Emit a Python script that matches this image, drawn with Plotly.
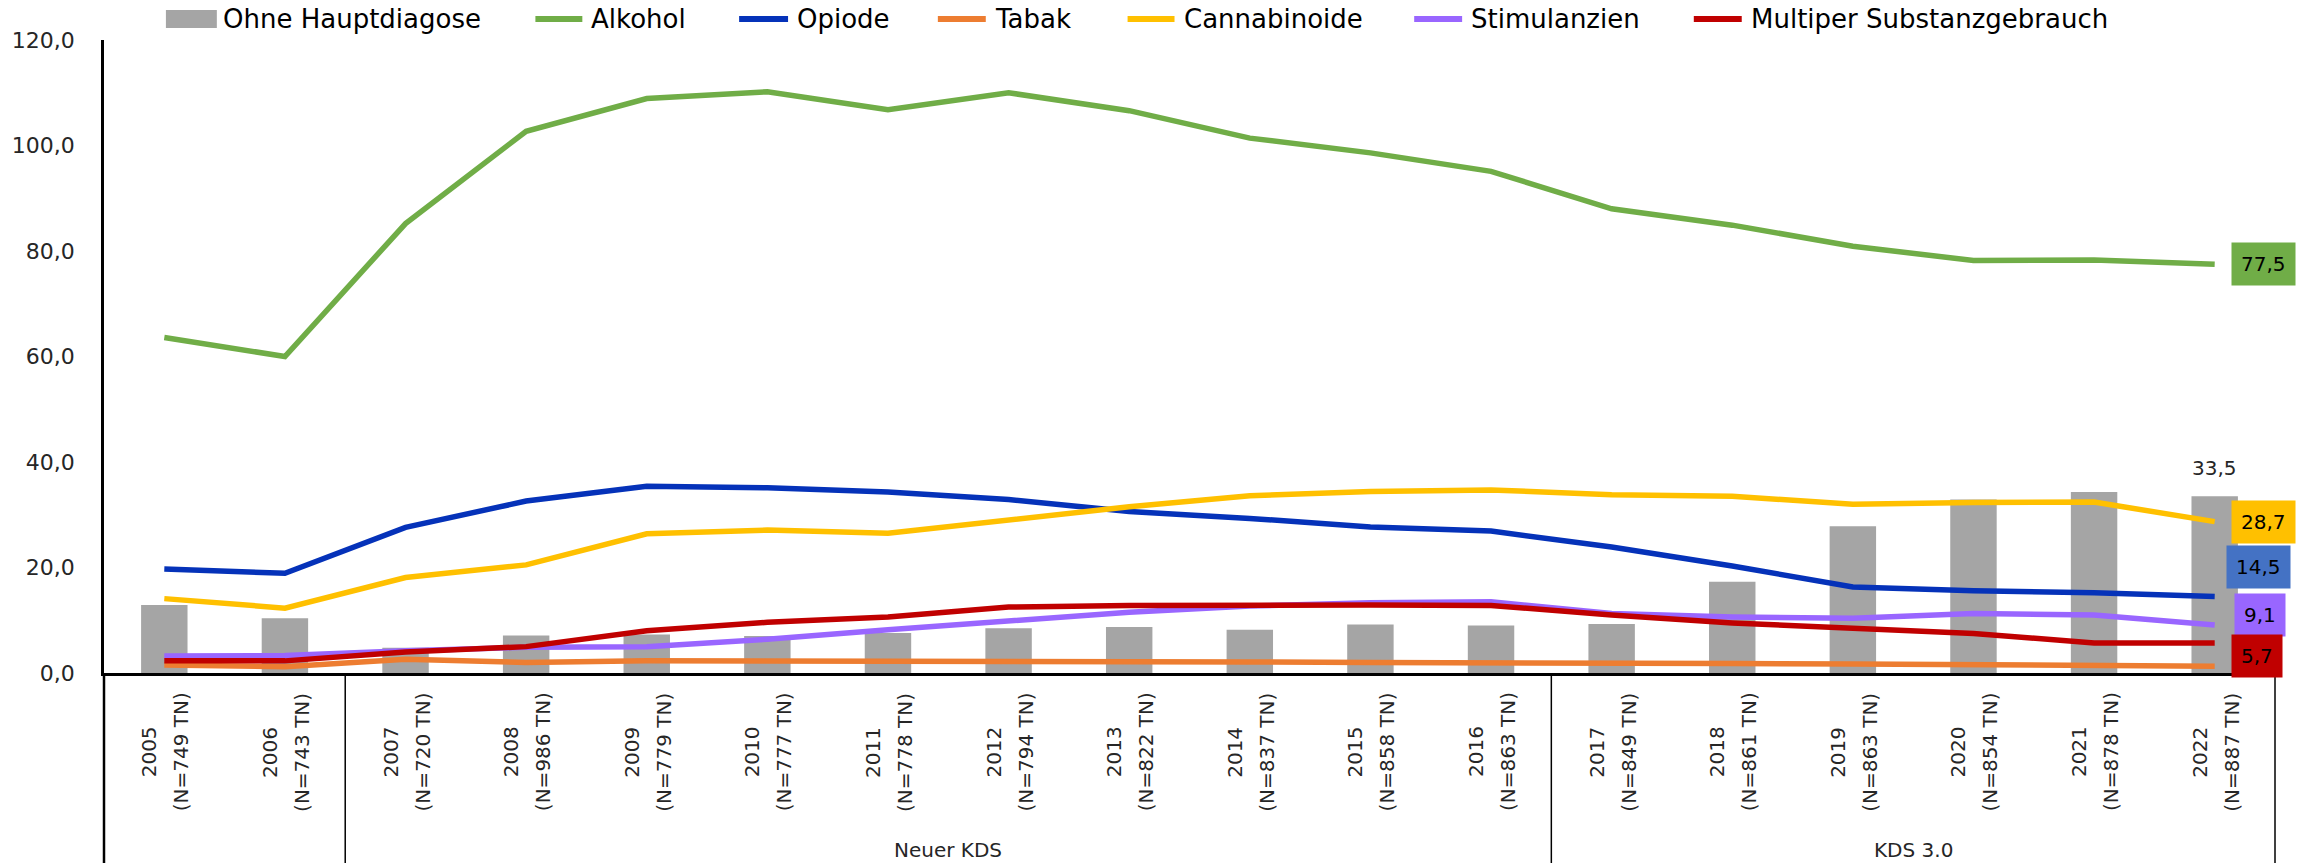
import plotly.graph_objects as go

# ---------------- data ----------------
years = ["2005", "2006", "2007", "2008", "2009", "2010", "2011", "2012", "2013",
         "2014", "2015", "2016", "2017", "2018", "2019", "2020", "2021", "2022"]
n_tn = [749, 743, 720, 986, 779, 777, 778, 794, 822, 837, 858, 863, 849, 861, 863, 854, 878, 887]

ohne_hauptdiagnose = [12.9, 10.4, 4.8, 7.1, 7.3, 7.0, 7.6, 8.5, 8.7, 8.2, 9.2, 9.0, 9.3, 17.3, 27.8, 32.9, 34.3, 33.5]
alkohol = [63.6, 60.0, 85.2, 102.7, 108.9, 110.2, 106.8, 110.0, 106.6, 101.4, 98.6, 95.1, 88.0, 84.9, 80.9, 78.2, 78.3, 77.5]
opiode = [19.7, 18.9, 27.6, 32.6, 35.4, 35.1, 34.3, 32.9, 30.6, 29.3, 27.7, 26.9, 23.9, 20.3, 16.3, 15.6, 15.2, 14.5]
tabak = [1.5, 1.2, 2.6, 2.0, 2.3, 2.3, 2.2, 2.2, 2.2, 2.1, 2.0, 2.0, 1.9, 1.8, 1.7, 1.5, 1.3, 1.3]
cannabinoide = [14.1, 12.3, 18.1, 20.5, 26.4, 27.1, 26.5, 29.0, 31.5, 33.6, 34.4, 34.7, 33.8, 33.5, 32.0, 32.3, 32.4, 28.7]
stimulanzien = [3.2, 3.3, 4.2, 4.9, 5.0, 6.4, 8.2, 9.8, 11.5, 12.7, 13.3, 13.5, 11.3, 10.6, 10.4, 11.3, 11.0, 9.1]
multiper = [2.3, 2.3, 4.0, 5.0, 8.0, 9.6, 10.6, 12.5, 12.8, 12.9, 12.9, 12.8, 11.0, 9.5, 8.5, 7.5, 5.7, 5.7]

groups = [("Neuer KDS", 2, 11), ("KDS 3.0", 12, 17)]
y_ticks = [0, 20, 40, 60, 80, 100, 120]

# ---------------- styling ----------------
FONT = "DejaVu Sans"
W, H = 2303, 863
L, R, T, B = 101, 2275, 40, 673  # plot area in px

def px_x(px):
    return (px - L) / (R - L)

def px_y(py):
    return (B - py) / (B - T)

def fmt(v):
    return f"{v:.1f}".replace(".", ",")

BAR_COLOR = "#A5A5A5"
line_series = [
    ("Alkohol", alkohol, "#70AD47", "#70AD47"),
    ("Opiode", opiode, "#0532B9", "#4472C4"),
    ("Tabak", tabak, "#ED7D31", None),
    ("Cannabinoide", cannabinoide, "#FFC000", "#FFC000"),
    ("Stimulanzien", stimulanzien, "#9966FF", "#9966FF"),
    ("Multiper Substanzgebrauch", multiper, "#C00000", "#C00000"),
]

fig = go.Figure()
fig.add_trace(go.Bar(x=years, y=ohne_hauptdiagnose, name="Ohne Hauptdiagose",
                     marker=dict(color=BAR_COLOR, line=dict(width=0)),
                     width=0.385, showlegend=False))
for name, vals, col, _ in line_series:
    fig.add_trace(go.Scatter(x=years, y=vals, name=name, mode="lines",
                             line=dict(color=col, width=5.5), showlegend=False))

shapes = []
annotations = []

n_cat = len(years)
def cat_paper(idx):
    return (idx + 0.5) / n_cat

# extended y-axis line, right border, group separators
y_bottom = px_y(H)
shapes.append(dict(type="line", xref="paper", yref="paper", x0=0, x1=0, y0=0, y1=y_bottom,
                   line=dict(color="black", width=2.5)))
shapes.append(dict(type="line", xref="paper", yref="paper", x0=1, x1=1, y0=0, y1=y_bottom,
                   line=dict(color="black", width=1.5)))
for _, start, _end in groups:
    xp = cat_paper(start - 0.5)
    shapes.append(dict(type="line", xref="paper", yref="paper", x0=xp, x1=xp, y0=0, y1=y_bottom,
                       line=dict(color="black", width=1.5)))

# category labels (two rotated lines)
for i, (yr, n) in enumerate(zip(years, n_tn)):
    xp = cat_paper(i)
    annotations.append(dict(x=xp, xref="paper", y=px_y(752), yref="paper", text=yr,
                            textangle=-90, showarrow=False, xshift=-15,
                            xanchor="center", yanchor="middle",
                            font=dict(family=FONT, size=20, color="#262626")))
    annotations.append(dict(x=xp, xref="paper", y=px_y(752), yref="paper", text=f"(N={n} TN)",
                            textangle=-90, showarrow=False, xshift=17,
                            xanchor="center", yanchor="middle",
                            font=dict(family=FONT, size=20, color="#262626")))

# group labels
for gname, start, end in groups:
    annotations.append(dict(x=cat_paper((start + end) / 2), xref="paper", y=px_y(850), yref="paper",
                            text=gname, showarrow=False, xanchor="center", yanchor="middle",
                            font=dict(family=FONT, size=20, color="#262626")))

# end labels
last_i = n_cat - 1
annotations.append(dict(x=last_i, xref="x", y=ohne_hauptdiagnose[-1], yref="y",
                        text=fmt(ohne_hauptdiagnose[-1]), showarrow=False,
                        xanchor="center", yanchor="bottom", yshift=14,
                        font=dict(family=FONT, size=20, color="#262626")))
label_shift = {"Alkohol": (16, 0), "Opiode": (11, 30), "Cannabinoide": (16, 0),
               "Stimulanzien": (19, 10), "Multiper Substanzgebrauch": (16, -13)}
for name, vals, col, boxcol in line_series:
    if boxcol is None:
        continue
    xs, ys = label_shift[name]
    annotations.append(dict(x=last_i, xref="x", y=vals[-1], yref="y", text=fmt(vals[-1]),
                            showarrow=False, xanchor="left", yanchor="middle",
                            xshift=xs, yshift=ys, bgcolor=boxcol, borderpad=9,
                            font=dict(family=FONT, size=20, color="black")))

# manual legend (matching the reference layout)
legend_items = [
    ("Ohne Hauptdiagose", BAR_COLOR, "rect", 163, 214),
    ("Alkohol", "#70AD47", "line", 530, 583),
    ("Opiode", "#0532B9", "line", 734, 789),
    ("Tabak", "#ED7D31", "line", 933, 987),
    ("Cannabinoide", "#FFC000", "line", 1123, 1176),
    ("Stimulanzien", "#9966FF", "line", 1410, 1464),
    ("Multiper Substanzgebrauch", "#C00000", "line", 1690, 1744),
]
ly = 19
for text, col, kind, x0, x1 in legend_items:
    if kind == "rect":
        shapes.append(dict(type="rect", xref="paper", yref="paper",
                           x0=px_x(x0), x1=px_x(x1), y0=px_y(ly + 9), y1=px_y(ly - 9),
                           fillcolor=col, line=dict(width=0)))
    else:
        shapes.append(dict(type="line", xref="paper", yref="paper",
                           x0=px_x(x0 + 3), x1=px_x(x1 - 3), y0=px_y(ly), y1=px_y(ly),
                           line=dict(color=col, width=6)))
    annotations.append(dict(x=px_x(x1 + 4), xref="paper", y=px_y(ly), yref="paper",
                            text=text, showarrow=False, xanchor="left", yanchor="middle",
                            font=dict(family=FONT, size=26, color="black")))

fig.update_layout(
    width=W, height=H,
    margin=dict(l=L, r=W - R, t=T, b=H - B, pad=0),
    paper_bgcolor="white", plot_bgcolor="white",
    separators=",.",
    showlegend=False,
    font=dict(family=FONT, color="#262626"),
    xaxis=dict(type="category", range=[-0.5, n_cat - 0.5], showticklabels=False,
               showline=True, linecolor="black", linewidth=2.5, ticks="",
               showgrid=False, zeroline=False, fixedrange=True),
    yaxis=dict(range=[0, 120], tickvals=y_ticks, tickformat=".1f", showgrid=False,
               zeroline=False, showline=True, linecolor="black", linewidth=2.5,
               ticks="", ticklabelstandoff=22,
               tickfont=dict(family=FONT, size=22, color="#262626")),
    shapes=shapes,
    annotations=annotations,
)

fig.write_html("out.html")
